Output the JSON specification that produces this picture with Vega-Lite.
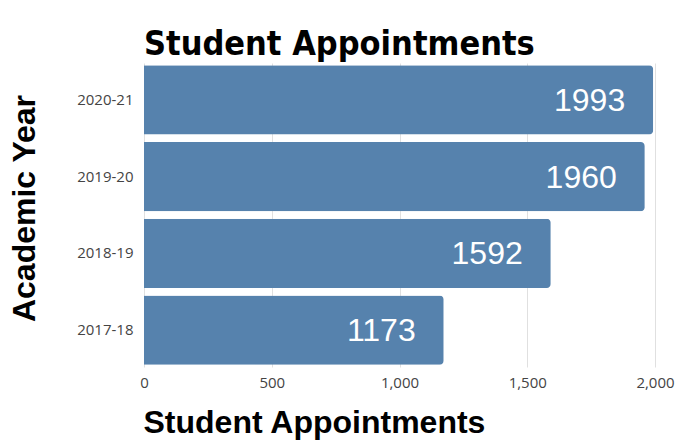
{
  "$schema": "https://vega.github.io/schema/vega-lite/v6.json",
  "autosize": {"type": "none"},
  "width": 511,
  "height": 304,
  "padding": {"left": 144, "top": 63, "right": 20, "bottom": 73},
  "background": "white",
  "title": {
    "text": "Student Appointments",
    "anchor": "start",
    "frame": "group",
    "font": "DejaVu Sans Condensed, Liberation Sans Narrow, DejaVu Sans",
    "fontWeight": "bold",
    "fontSize": 34,
    "color": "#000000",
    "baseline": "alphabetic",
    "offset": 10,
    "dy": 36
  },
  "data": {
    "values": [
      {"year": "2020-21", "appointments": 1993},
      {"year": "2019-20", "appointments": 1960},
      {"year": "2018-19", "appointments": 1592},
      {"year": "2017-18", "appointments": 1173}
    ]
  },
  "encoding": {
    "y": {
      "field": "year",
      "type": "nominal",
      "sort": "descending",
      "scale": {"paddingInner": 0.1, "paddingOuter": 0.03},
      "axis": {
        "title": "Academic Year",
        "titleFont": "Liberation Sans",
        "titleFontSize": 32,
        "titleFontWeight": "bold",
        "titleColor": "#000000",
        "titleBaseline": "alphabetic",
        "titleX": -110,
        "titleY": 145,
        "labelFont": "Open Sans",
        "labelFontSize": 15,
        "labelColor": "#444444",
        "labelPadding": 11,
        "domain": false,
        "ticks": false
      }
    },
    "x": {
      "field": "appointments",
      "type": "quantitative",
      "scale": {"domain": [0, 2000]},
      "axis": {
        "title": "Student Appointments",
        "titleFont": "Liberation Sans",
        "titleFontSize": 32,
        "titleFontWeight": "bold",
        "titleColor": "#000000",
        "titleAnchor": "start",
        "titleAlign": "left",
        "titleBaseline": "alphabetic",
        "titleX": -1,
        "titleY": 65,
        "labelFont": "Open Sans",
        "labelFontSize": 15,
        "labelColor": "#444444",
        "labelPadding": 8,
        "labelFlush": false,
        "tickCount": 4,
        "domain": false,
        "ticks": false,
        "gridColor": "#e0e0e0",
        "format": ",d"
      }
    }
  },
  "layer": [
    {
      "mark": {"type": "bar", "color": "#5682ad", "cornerRadiusEnd": 4}
    },
    {
      "mark": {
        "type": "text",
        "align": "right",
        "baseline": "middle",
        "dx": -28,
        "dy": 1,
        "font": "Liberation Sans",
        "fontSize": 32,
        "color": "white"
      },
      "encoding": {"text": {"field": "appointments", "type": "quantitative", "format": "d"}}
    }
  ],
  "config": {"view": {"stroke": null}}
}
